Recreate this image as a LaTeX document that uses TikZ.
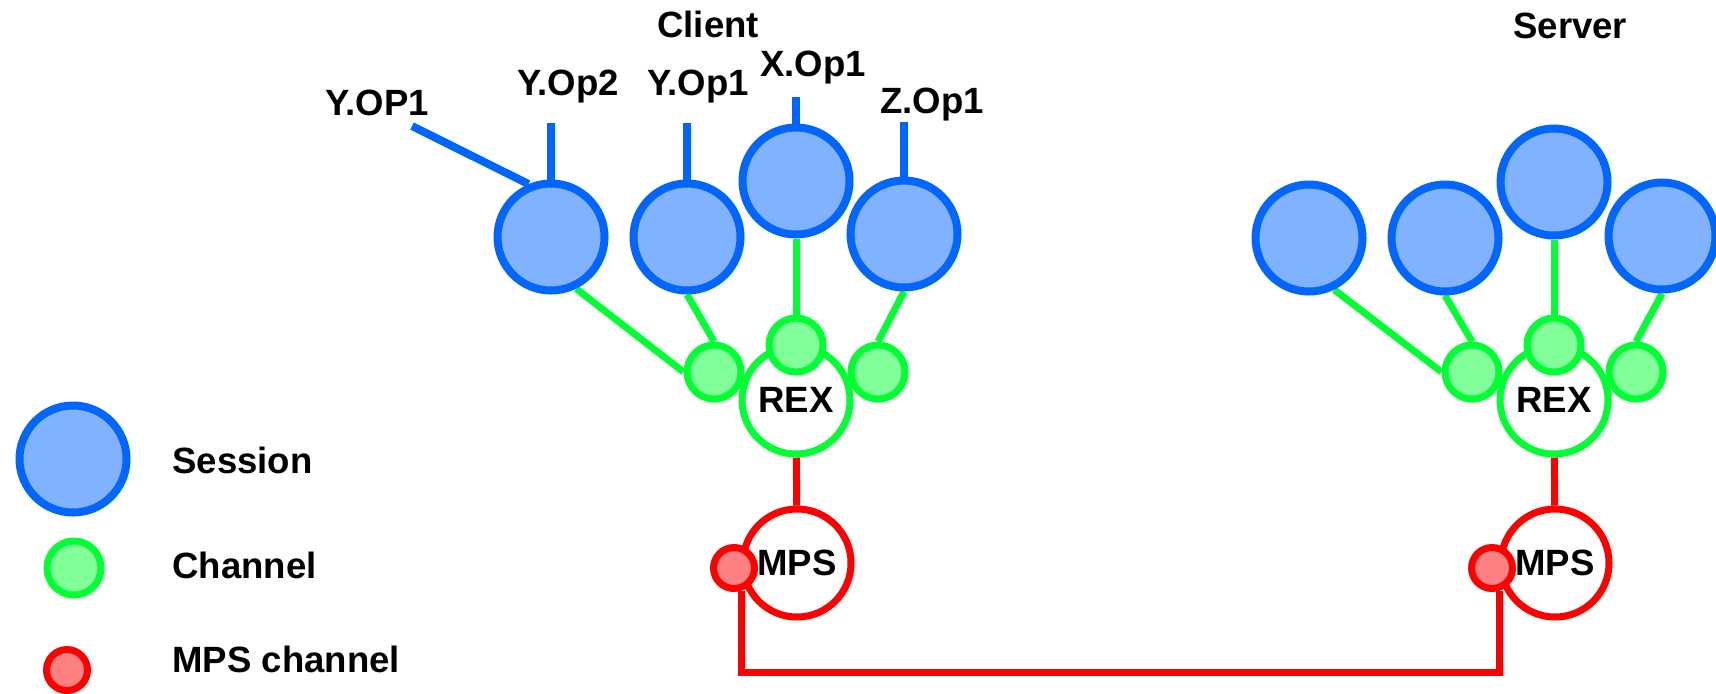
\documentclass[tikz,border=0pt]{standalone}
\usepackage{fontspec}
\setmainfont{Liberation Sans}
\usetikzlibrary{positioning,backgrounds}
\definecolor{sesline}{RGB}{0,102,255}
\definecolor{sesfill}{RGB}{128,178,255}
\definecolor{chline}{RGB}{0,255,51}
\definecolor{chfill}{RGB}{128,255,153}
\definecolor{mpsline}{RGB}{255,0,0}
\definecolor{mpsfill}{RGB}{255,128,128}
\newcommand\diafont{\bfseries\fontsize{20.8}{25}\selectfont}
\tikzset{
  sess/.style={circle, draw=sesline, fill=sesfill, line width=1.6mm, minimum size=21.4mm, inner sep=0pt},
  chan/.style={circle, draw=chline, fill=chfill, line width=1.4mm, minimum size=10.8mm, inner sep=0pt},
  rexc/.style={circle, draw=chline, fill=white, line width=1.4mm, minimum size=21.6mm, inner sep=0pt, font=\diafont},
  mpsc/.style={circle, draw=mpsline, fill=white, line width=1.4mm, minimum size=21.6mm, inner sep=0pt, font=\diafont},
  mpsch/.style={circle, draw=mpsline, fill=mpsfill, line width=1.4mm, minimum size=8.2mm, inner sep=0pt},
  lbl/.style={font=\diafont, inner sep=0pt, anchor=base west},
  sline/.style={sesline, line width=1.6mm},
  cline/.style={chline, line width=1.4mm},
  mline/.style={mpsline, line width=1.4mm},
}
\begin{document}
\begin{tikzpicture}[x=0.2mm, y=-0.2mm]
  \useasboundingbox (0,0) rectangle (1716,693);
  % client
  \node[sess] (cs1) at (551,237) {};
  \node[sess] (cs2) at (687,237) {};
  \node[sess] (cs3) at (796,181) {};
  \node[sess] (cs4) at (904,234) {};
  \node[rexc] (crex) at (796,400) {REX};
  \node[chan] (cc1) at (714,372) {};
  \node[chan] (cc2) at (796,345) {};
  \node[chan] (cc3) at (878,372) {};
  \node[mpsc] (cmps) at (797,563) {MPS};
  \node[mpsch] (cmc) at (734,568) {};
  % server
  \node[sess] (ss1) at (1309,238) {};
  \node[sess] (ss2) at (1445,238) {};
  \node[sess] (ss3) at (1554,182) {};
  \node[sess] (ss4) at (1662,236) {};
  \node[rexc] (srex) at (1554,400) {REX};
  \node[chan] (sc1) at (1472,372) {};
  \node[chan] (sc2) at (1554,345) {};
  \node[chan] (sc3) at (1636,372) {};
  \node[mpsc] (smps) at (1555,563) {MPS};
  \node[mpsch] (smc) at (1492,568) {};
  % operation stubs
  \coordinate (cyop) at (412,126);
  \coordinate (cs1top) at (551,123);
  \coordinate (cs2top) at (687,123);
  \coordinate (cs3top) at (796,97);
  \coordinate (cs4top) at (904,122);
  \draw[sline] (cs1.113) -- (cyop);
  \draw[sline] (cs1) -- (cs1top);
  \draw[sline] (cs2) -- (cs2top);
  \draw[sline] (cs3) -- (cs3top);
  \draw[sline] (cs4) -- (cs4top);
  \node[lbl] (tclient) at (657,37) {Client};
  \node[lbl] (tserver) at (1513,38) {Server};
  \node[lbl] (tyop1) at (325,115) {Y.OP1};
  \node[lbl] (tyop2) at (517,95) {Y.Op2};
  \node[lbl] (tyopa) at (647,95) {Y.Op1};
  \node[lbl] (txop) at (760,76) {X.Op1};
  \node[lbl] (tzop) at (880,113) {Z.Op1};
  % legend
  \node[sess] (lsess) at (73,459) {};
  \node[chan] (lchan) at (74,568) {};
  \node[mpsch] (lmps) at (67,670) {};
  \node[lbl] (tsess) at (172,473) {Session};
  \node[lbl] (tchan) at (172,578) {Channel};
  \node[lbl] (tmps) at (172,672) {MPS channel};
  \coordinate (wire) at (0,672);
  \begin{scope}[on background layer]
    \draw[cline] (cs1.-64) -- (cc1.west);
    \draw[cline] (cs2.south) -- (cc1.north);
    \draw[cline] (cs3) -- (cc2);
    \draw[cline] (cs4.south) -- (cc3.north);
    \draw[cline] (ss1.-64) -- (sc1.west);
    \draw[cline] (ss2.south) -- (sc1.north);
    \draw[cline] (ss3) -- (sc2);
    \draw[cline] (ss4.south) -- (sc3.north);
    \draw[mline] (crex) -- (cmps);
    \draw[mline] (srex) -- (smps);
    \draw[mline] (cmc.-72) |- (wire -| smc.-72) -- (smc.-72);
  \end{scope}
\end{tikzpicture}
\end{document}
